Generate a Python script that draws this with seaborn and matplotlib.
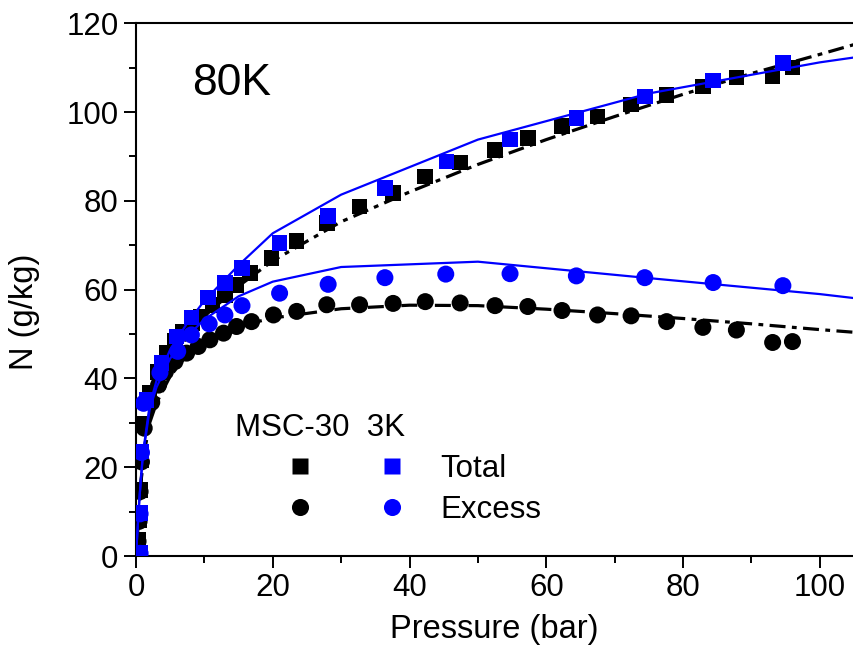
import numpy as np
import pandas as pd
import seaborn as sns
import matplotlib
matplotlib.use("Agg")
import matplotlib.pyplot as plt
from matplotlib.ticker import MultipleLocator
from matplotlib.lines import Line2D
from matplotlib.legend_handler import HandlerTuple

# --- measured uptake, MSC-30 (black) ---
p_tot_msc = [0.3, 0.45, 0.6, 0.8, 1.1, 2.0, 3.2, 4.5, 5.7, 6.9, 8.2, 9.4, 11.2, 13.0, 14.7,
             16.7, 19.8, 23.5, 27.9, 32.7, 37.6, 42.3, 47.4, 52.5, 57.3, 62.3, 67.5, 72.4,
             77.6, 82.9, 87.8, 93.1, 96.0]
n_tot_msc = [3.6, 8.1, 14.9, 21.6, 29.9, 36.7, 41.5, 45.7, 48.5, 50.6, 52.5, 53.9, 56.5, 58.8,
             61.1, 63.7, 67.1, 70.9, 75.0, 78.7, 81.8, 85.5, 88.6, 91.5, 94.2, 96.9, 99.0,
             101.7, 103.9, 105.8, 107.8, 108.0, 110.0]
p_exc_msc = [0.3, 0.45, 0.6, 0.8, 1.2, 2.3, 3.3, 4.3, 5.7, 7.4, 9.1, 10.8, 12.8, 14.7, 16.9,
             20.1, 23.5, 27.9, 32.7, 37.6, 42.3, 47.4, 52.5, 57.3, 62.3, 67.5, 72.4, 77.6,
             82.9, 87.8, 93.1, 96.0]
n_exc_msc = [3.3, 7.8, 14.5, 21.2, 28.8, 34.6, 38.5, 41.5, 43.8, 45.7, 47.2, 48.7, 50.2, 51.7,
             52.8, 54.3, 55.1, 56.6, 56.6, 56.9, 57.3, 57.0, 56.4, 56.2, 55.3, 54.3, 54.1,
             52.8, 51.5, 50.9, 48.1, 48.3]

# --- measured uptake, 3K (blue) ---
p_tot_3k = [0.6, 0.6, 0.8, 1.56, 3.76, 5.95, 8.1, 10.5, 13.0, 15.5, 21.0, 28.1, 36.4, 45.4,
            54.7, 64.4, 74.4, 84.4, 94.6]
n_tot_3k = [0.7, 9.7, 23.5, 35.2, 43.5, 49.4, 53.7, 58.2, 61.5, 64.9, 70.5, 76.6, 82.9, 88.9,
            93.8, 98.7, 103.5, 107.1, 111.1]
p_exc_3k = [0.6, 0.6, 0.8, 1.1, 3.5, 6.1, 8.1, 10.7, 13.0, 15.5, 21.0, 28.1, 36.4, 45.3,
            54.7, 64.4, 74.4, 84.4, 94.6]
n_exc_3k = [0.6, 9.5, 23.3, 34.4, 41.3, 46.1, 49.8, 52.3, 54.3, 56.4, 59.2, 61.2, 62.7, 63.5,
            63.6, 63.1, 62.7, 61.6, 60.9]

# --- model curves ---
p_fit_msc = [0, 0.25, 0.5, 1, 2, 3, 5, 7.5, 10, 15, 20, 30, 40, 50, 60, 70, 80, 90, 100, 105]
n_fit_tot_msc = [0, 6, 12, 22, 31.5, 36.5, 43.5, 49.5, 54, 60.8, 66.5, 75.3, 82, 88.2, 93.8,
                 99, 104, 108.7, 113, 115.2]
n_fit_exc_msc = [0, 6, 12, 21.5, 30, 34.5, 40.5, 45.3, 48.3, 51.8, 53.6, 55.7, 56.5, 56.4,
                 55.6, 54.6, 53.5, 52.3, 51.0, 50.4]
p_fit_3k = [0, 0.5, 1, 2, 3, 5, 7.5, 10, 15, 20, 30, 50, 75, 100, 105]
n_fit_tot_3k = [0, 13, 23, 34, 39.5, 46.5, 52.5, 57.5, 65.5, 72.7, 81.4, 93.8, 104.2, 111.2, 112.3]
n_fit_exc_3k = [0, 13, 22.5, 33, 38, 44.5, 49.5, 53.3, 58.5, 61.8, 65.1, 66.3, 62.6, 59.0, 58.1]

x_ticks = [0, 20, 40, 60, 80, 100]
y_ticks = [0, 20, 40, 60, 80, 100, 120]

BLUE = "#0000ff"
BLACK = "#000000"

sns.set_theme(style="ticks", rc={
    "axes.edgecolor": "black", "axes.labelcolor": "black", "text.color": "black",
    "xtick.color": "black", "ytick.color": "black", "axes.linewidth": 1.5,
})
plt.rcParams["font.family"] = ["Liberation Sans", "DejaVu Sans"]

fig = plt.figure(figsize=(8.54, 6.64), dpi=100)
ax = fig.add_axes([136 / 854, 1 - 556 / 664, 1 - 136 / 854, (556 - 23.3) / 664])

dashdot = (0, (5, 2, 1.5, 2))
sns.lineplot(x=p_fit_msc, y=n_fit_tot_msc, ax=ax, color=BLACK, lw=2.3, linestyle=dashdot,
             sort=False, estimator=None, zorder=2)
sns.lineplot(x=p_fit_msc, y=n_fit_exc_msc, ax=ax, color=BLACK, lw=2.3, linestyle=dashdot,
             sort=False, estimator=None, zorder=2)

sns.scatterplot(x=p_tot_msc, y=n_tot_msc, ax=ax, marker="s", s=125, color=BLACK,
                edgecolor="none", linewidth=0, zorder=3)
sns.scatterplot(x=p_exc_msc, y=n_exc_msc, ax=ax, marker="o", s=150, color=BLACK,
                edgecolor="none", linewidth=0, zorder=3)

sns.lineplot(x=p_fit_3k, y=n_fit_tot_3k, ax=ax, color=BLUE, lw=1.6, sort=False,
             estimator=None, zorder=4)
sns.lineplot(x=p_fit_3k, y=n_fit_exc_3k, ax=ax, color=BLUE, lw=1.6, sort=False,
             estimator=None, zorder=4)

sns.scatterplot(x=p_tot_3k, y=n_tot_3k, ax=ax, marker="s", s=125, color=BLUE,
                edgecolor="none", linewidth=0, zorder=5)
sns.scatterplot(x=p_exc_3k, y=n_exc_3k, ax=ax, marker="o", s=150, color=BLUE,
                edgecolor="none", linewidth=0, zorder=5)

ax.set_xlim(0, 105)
ax.set_ylim(0, 120)
ax.set_xticks(x_ticks)
ax.set_yticks(y_ticks)
ax.xaxis.set_minor_locator(MultipleLocator(10))
ax.yaxis.set_minor_locator(MultipleLocator(10))
ax.tick_params(which="major", direction="out", length=8.6, width=1.4, labelsize=22.5, pad=4)
ax.tick_params(which="minor", direction="out", length=5, width=1.4)
ax.tick_params(top=False, right=False, which="both")
ax.spines["right"].set_visible(False)
ax.spines["top"].set_visible(True)

ax.set_xlabel("Pressure (bar)", fontsize=23.5)
ax.set_ylabel("N (g/kg)", fontsize=23.5)
ax.xaxis.set_label_coords(0.4993, -0.109)
ax.yaxis.set_label_coords(-0.1337, 0.459)

ax.text(8.2, 103.9, "80K", fontsize=32, ha="left", va="baseline")
ax.text(0.1379, 0.2253, "MSC-30  3K", fontsize=22.5, ha="left", va="baseline",
        transform=ax.transAxes)

# legend: black and blue key side by side in each row
h_tot = (Line2D([], [], ls="none", marker="s", ms=11, color=BLACK, mec="none"),
         Line2D([], [], ls="none", marker="s", ms=11, color=BLUE, mec="none"))
h_exc = (Line2D([], [], ls="none", marker="o", ms=12.3, color=BLACK, mec="none"),
         Line2D([], [], ls="none", marker="o", ms=12.3, color=BLUE, mec="none"))
ax.legend([h_tot, h_exc], ["Total", "Excess"],
          handler_map={tuple: HandlerTuple(ndivide=None, pad=0)},
          loc="upper left", bbox_to_anchor=((254 - 136) / 718, (556 - 454) / 532.7),
          frameon=False, fontsize=22.5, handlelength=5.9, handletextpad=0.05,
          labelspacing=0.35, borderpad=0, borderaxespad=0)

fig.savefig("out.png", dpi=100)
